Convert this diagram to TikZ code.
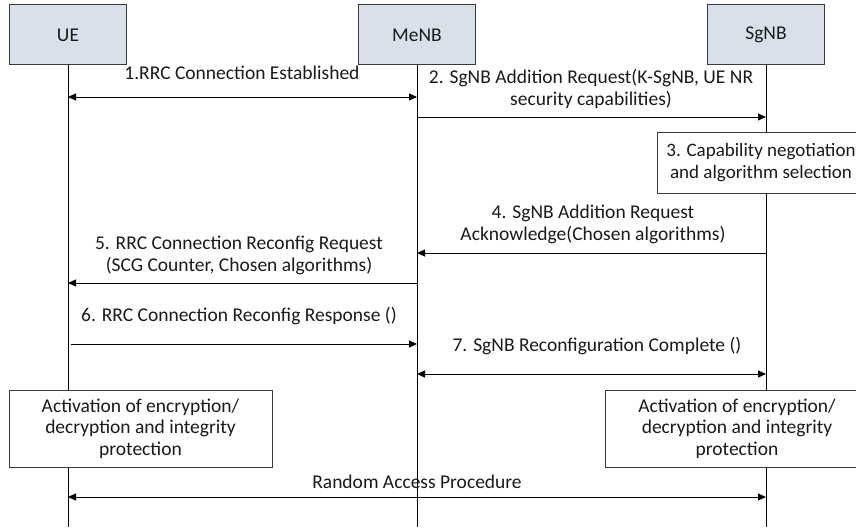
\documentclass[tikz,border=0pt]{standalone}
\usepackage{fontspec}
\setmainfont{Carlito}
\usetikzlibrary{arrows.meta}
\definecolor{actor}{HTML}{D7E0EB}
\definecolor{edge}{HTML}{3A3A3A}
\definecolor{ink}{HTML}{1A1A1A}
\tikzset{
  actorbox/.style={draw=edge, fill=actor, line width=1pt, minimum width=117pt, minimum height=60pt, inner sep=0pt, text=ink},
  actbox/.style={draw=edge, fill=white, line width=1pt, inner sep=0pt, align=center, text=ink, font=\fontsize{19.5}{21.5}\selectfont},
  lbl/.style={align=center, text=ink, inner sep=0pt},
  life/.style={draw=black, line width=0.8pt},
  msg/.style={draw=black, line width=1pt, -{Triangle[length=8pt,width=7pt]}},
  msgb/.style={draw=black, line width=1pt, {Triangle[length=8pt,width=7pt]}-{Triangle[length=8pt,width=7pt]}},
}
\begin{document}
\begin{tikzpicture}[x=1pt,y=-1pt, font=\fontsize{19.5}{22}\selectfont]
\useasboundingbox (0,0) rectangle (856,527);
% actors
\node[actorbox] (ue) at (68,35) {UE};
\node[actorbox] (menb) at (417,35) {MeNB};
\node[actorbox] (sgnb) at (766,35) {SgNB};
% lifeline ends
\coordinate (ueE) at (68,527);
\coordinate (menbE) at (417,527);
\coordinate (sgnbE) at (766,527);
\draw[life] (ue.south) -- (ueE);
\draw[life] (menb.south) -- (menbE);
\draw[life] (sgnb.south) -- (sgnbE);
% boxes
\node[actbox, minimum width=218pt, minimum height=61pt] (cap) at (766,162.5) {};
\node[lbl, font=\fontsize{19}{22}\selectfont] (capt) at (761,162.5) {3. Capability negotiation\\and algorithm selection};
\node[actbox, minimum width=263pt, minimum height=77pt] (actL) at (140.5,428.5) {Activation of encryption/\\decryption and integrity\\protection};
\node[actbox, minimum width=264pt, minimum height=77pt] (actR) at (737,428.5) {Activation of encryption/\\decryption and integrity\\protection};
% messages
\node[lbl] (l1) at (242,73) {1.RRC Connection Established};
\draw[msgb] (ue.south |- 0,97) -- (menb.south |- 0,97);
\node[lbl] (l2) at (591,89) {2. SgNB Addition Request(K-SgNB, UE NR\\security capabilities)};
\draw[msg] (menb.south |- 0,117) -- (sgnb.south |- 0,117);
\node[lbl] (l4) at (593,224) {4. SgNB Addition Request\\Acknowledge(Chosen algorithms)};
\draw[msg] (sgnb.south |- 0,253) -- (menb.south |- 0,253);
\node[lbl] (l5) at (239,255) {5. RRC Connection Reconfig Request\\(SCG Counter, Chosen algorithms)};
\draw[msg] (menb.south |- 0,283) -- (ue.south |- 0,283);
\node[lbl] (l6) at (239,316) {6. RRC Connection Reconfig Response ()};
\coordinate (m6s) at (71,344);
\draw[msg] (m6s) -- (menb.south |- 0,344);
\node[lbl] (l7) at (597,346) {7. SgNB Reconfiguration Complete ()};
\draw[msgb] (menb.south |- 0,374) -- (sgnb.south |- 0,374);
\node[lbl] (l8) at (417,482) {Random Access Procedure};
\draw[msgb] (ue.south |- 0,497) -- (sgnb.south |- 0,497);
\end{tikzpicture}
\end{document}
